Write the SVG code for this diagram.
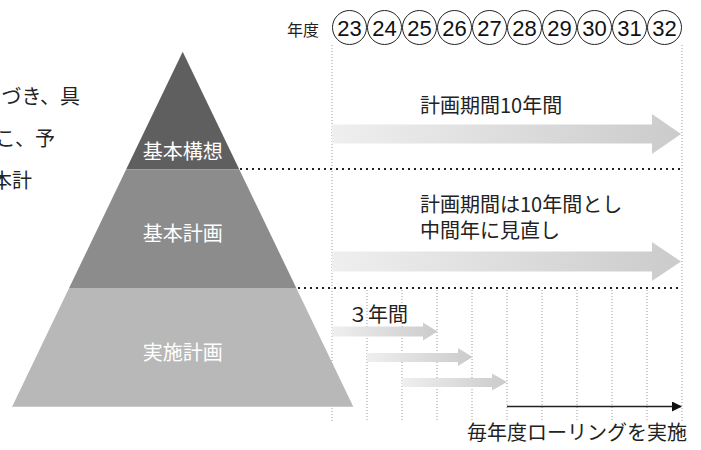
<svg xmlns="http://www.w3.org/2000/svg" width="701" height="450" viewBox="0 0 701 450">
<defs>
<linearGradient id="g" x1="0" y1="0" x2="1" y2="0">
<stop offset="0" stop-color="#efefef"/>
<stop offset="1" stop-color="#cbcbcb"/>
</linearGradient>
<marker id="ah" markerWidth="10" markerHeight="10" refX="9" refY="5" orient="auto" markerUnits="userSpaceOnUse">
<path d="M0,0 L10,5 L0,10 Z" fill="#111"/>
</marker>
<style>
text{font-family:"Noto Sans CJK JP","Liberation Sans",sans-serif;}
.t{font-size:20px;fill:#222;}
.w{font-size:20px;fill:#fff;text-anchor:middle;}
.s{font-family:"Liberation Serif","Noto Sans CJK JP",serif;font-size:20px;fill:#222;text-anchor:end;}
.num{font-family:"Liberation Sans",sans-serif;font-size:22px;fill:#111;text-anchor:middle;}
.vd{stroke:#9a9a9a;stroke-width:1;stroke-dasharray:1 2;fill:none;}
.hd{stroke:#222;stroke-width:2;stroke-dasharray:2 4;fill:none;}
.c{fill:#fff;stroke:#222;stroke-width:1;}
</style>
</defs>
<rect width="701" height="450" fill="#fff"/>

<g id="side-text">
<text class="s" x="80" y="104">づき、具</text>
<text class="s" x="55" y="146">こ、予</text>
<text class="s" x="32" y="188">本計</text>
</g>

<g id="grid">
<line class="vd" x1="332" y1="45" x2="332" y2="422"/>
<line class="vd" x1="682" y1="45" x2="682" y2="422"/>
<line class="vd" x1="367" y1="290" x2="367" y2="422"/>
<line class="vd" x1="402" y1="290" x2="402" y2="422"/>
<line class="vd" x1="437" y1="290" x2="437" y2="422"/>
<line class="vd" x1="472" y1="290" x2="472" y2="422"/>
<line class="vd" x1="507" y1="290" x2="507" y2="422"/>
<line class="vd" x1="542" y1="290" x2="542" y2="422"/>
<line class="vd" x1="577" y1="290" x2="577" y2="422"/>
<line class="vd" x1="612" y1="290" x2="612" y2="422"/>
<line class="vd" x1="647" y1="290" x2="647" y2="422"/>
</g>

<g id="header">
<text x="287" y="36" style="font-size:16px;fill:#222;">年度</text>
<circle class="c" cx="349.5" cy="27.5" r="17"/>
<circle class="c" cx="384.5" cy="27.5" r="17"/>
<circle class="c" cx="419.5" cy="27.5" r="17"/>
<circle class="c" cx="454.5" cy="27.5" r="17"/>
<circle class="c" cx="489.5" cy="27.5" r="17"/>
<circle class="c" cx="524.5" cy="27.5" r="17"/>
<circle class="c" cx="559.5" cy="27.5" r="17"/>
<circle class="c" cx="594.5" cy="27.5" r="17"/>
<circle class="c" cx="629.5" cy="27.5" r="17"/>
<circle class="c" cx="664.5" cy="27.5" r="17"/>
<text class="num" x="349.5" y="36">23</text>
<text class="num" x="384.5" y="36">24</text>
<text class="num" x="419.5" y="36">25</text>
<text class="num" x="454.5" y="36">26</text>
<text class="num" x="489.5" y="36">27</text>
<text class="num" x="524.5" y="36">28</text>
<text class="num" x="559.5" y="36">29</text>
<text class="num" x="594.5" y="36">30</text>
<text class="num" x="629.5" y="36">31</text>
<text class="num" x="664.5" y="36">32</text>
</g>

<g id="pyramid-top">
<polygon points="182.7,51.7 239.2,169.3 126.2,169.3" fill="#5f5f5f"/>
<text class="w" x="182.7" y="159">基本構想</text>
</g>
<g id="pyramid-middle">
<polygon points="126.2,169.3 239.2,169.3 296.3,288 69.1,288" fill="#8c8c8c"/>
<text class="w" x="182.7" y="241">基本計画</text>
</g>
<g id="pyramid-bottom">
<polygon points="69.1,288 296.3,288 353.3,406.7 12.1,406.7" fill="#b8b8b8"/>
<text class="w" x="182.7" y="360">実施計画</text>
</g>

<g id="connectors">
<line class="hd" x1="240" y1="169" x2="682" y2="169"/>
<line class="hd" x1="298" y1="288" x2="682" y2="288"/>
<path d="M332,124.5 H652 V114 L681,134 L652,154 V143.5 H332 Z" fill="url(#g)"/>
<path d="M332,251.5 H652 V242 L681,261.5 L652,281 V271.5 H332 Z" fill="url(#g)"/>
<path d="M332,326.5 H423 V322.5 L437.5,331.5 L423,340.5 V336.5 H332 Z" fill="url(#g)"/>
<path d="M367,353 H458 V348 L472.5,357 L458,366 V362 H367 Z" fill="url(#g)"/>
<path d="M402,378 H492 V373.5 L507,382 L492,390.5 V387 H402 Z" fill="url(#g)"/>
<line x1="507" y1="406.5" x2="681" y2="406.5" stroke="#222" stroke-width="1.5" marker-end="url(#ah)"/>
</g>

<g id="labels">
<text class="t" x="420" y="113">計画期間10年間</text>
<text class="t" x="420" y="212">計画期間は10年間とし</text>
<text class="t" x="420" y="238">中間年に見直し</text>
<text class="t" x="348" y="322">３年間</text>
<text class="t" x="467" y="440">毎年度ローリングを実施</text>
</g>
</svg>
